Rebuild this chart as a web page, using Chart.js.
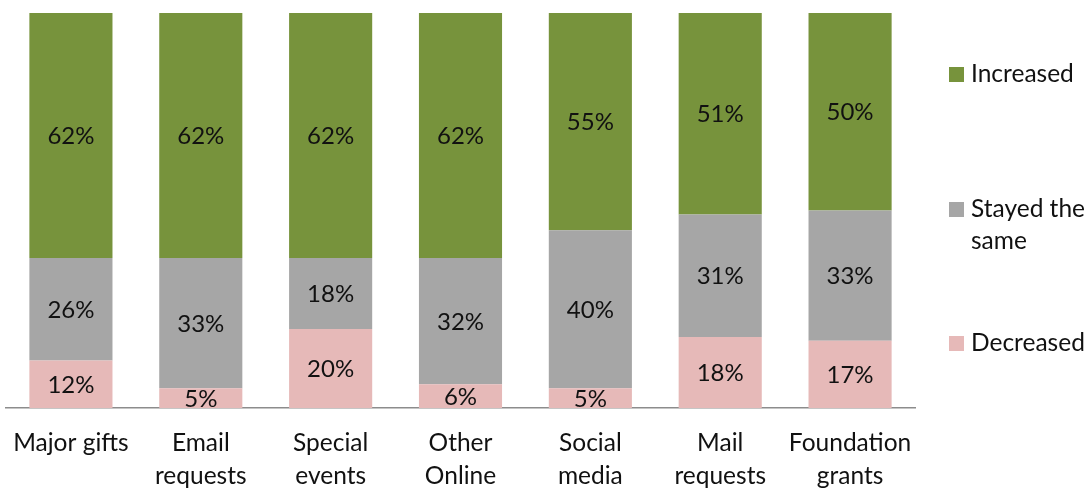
<!DOCTYPE html>
<html>
<head>
<meta charset="utf-8">
<script src="https://cdn.jsdelivr.net/npm/chart.js@4/dist/chart.umd.min.js"></script>
<style>
  html, body { margin: 0; padding: 0; background: #fff; }
  #wrap { position: relative; width: 1086px; height: 489px; }
  canvas { position: absolute; left: 0; top: 0; }
  .legend-item { position: absolute; left: 949px; font: 24.5px Lato, "Open Sans", sans-serif; color: #111; line-height: 32px; }
  .legend-item .box { position: absolute; left: 0; width: 15px; height: 15px; }
  .legend-item .txt { position: absolute; left: 22px; white-space: nowrap; }
</style>
</head>
<body>
<div id="wrap">
  <canvas id="chart" width="1086" height="489"></canvas>
  <div id="legend"></div>
</div>
<script>
const categories = [
  ["Major gifts"],
  ["Email", "requests"],
  ["Special", "events"],
  ["Other", "Online"],
  ["Social", "media"],
  ["Mail", "requests"],
  ["Foundation", "grants"]
];
const decreased = [12, 5, 20, 6, 5, 18, 17];
const stayedSame = [26, 33, 18, 32, 40, 31, 33];
const increased = [62, 62, 62, 62, 55, 51, 50];

const seriesColors = {
  increased: "#77933C",
  same: "#A6A6A6",
  decreased: "#E6B9B8"
};

// write the value of each segment in its middle
const segmentLabels = {
  id: "segmentLabels",
  afterDatasetsDraw(chart) {
    const ctx = chart.ctx;
    ctx.save();
    ctx.font = "24px Lato, 'Open Sans', sans-serif";
    ctx.fillStyle = "#111";
    ctx.textAlign = "center";
    ctx.textBaseline = "middle";
    chart.data.datasets.forEach((ds, i) => {
      const meta = chart.getDatasetMeta(i);
      meta.data.forEach((bar, j) => {
        const mid = (bar.y + bar.base) / 2;
        ctx.fillText(ds.data[j] + "%", bar.x, mid + 1);
      });
    });
    ctx.restore();
  }
};

new Chart(document.getElementById("chart"), {
  type: "bar",
  data: {
    labels: categories,
    datasets: [
      { label: "Decreased", data: decreased, backgroundColor: seriesColors.decreased },
      { label: "Stayed the same", data: stayedSame, backgroundColor: seriesColors.same },
      { label: "Increased", data: increased, backgroundColor: seriesColors.increased }
    ]
  },
  options: {
    responsive: false,
    animation: false,
    layout: { padding: { left: 6, right: 171, top: 13, bottom: 0 } },
    datasets: { bar: { categoryPercentage: 1, barPercentage: 0.64 } },
    plugins: { legend: { display: false }, tooltip: { enabled: false } },
    scales: {
      x: {
        stacked: true,
        grid: { display: false },
        border: { display: true, color: "#8C8C8C", width: 1.5 },
        ticks: {
          color: "#111",
          padding: 11,
          maxRotation: 0,
          autoSkip: false,
          font: { family: "Lato, 'Open Sans', sans-serif", size: 24.5, lineHeight: "33px" }
        },
        afterFit(scale) { scale.height = 81; }
      },
      y: {
        stacked: true,
        display: false,
        min: 0,
        max: 100
      }
    }
  },
  plugins: [segmentLabels]
});

// legend on the right
const legendRows = [
  { text: ["Increased"], color: seriesColors.increased, top: 57 },
  { text: ["Stayed the", "same"], color: seriesColors.same, top: 192 },
  { text: ["Decreased"], color: seriesColors.decreased, top: 326 }
];
const legend = document.getElementById("legend");
legendRows.forEach(row => {
  const item = document.createElement("div");
  item.className = "legend-item";
  item.style.top = row.top + "px";
  const box = document.createElement("div");
  box.className = "box";
  box.style.background = row.color;
  box.style.top = "10px";
  const txt = document.createElement("div");
  txt.className = "txt";
  txt.innerHTML = row.text.join("<br>");
  item.appendChild(box);
  item.appendChild(txt);
  legend.appendChild(item);
});
</script>
</body>
</html>
